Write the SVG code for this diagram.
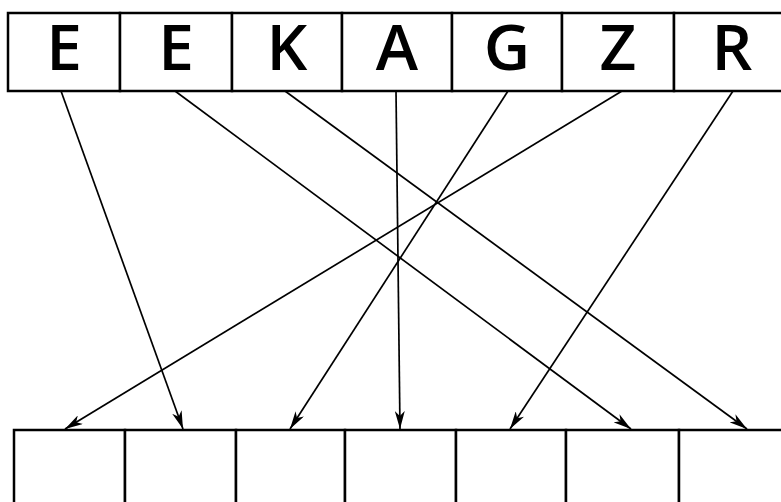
<svg xmlns="http://www.w3.org/2000/svg" width="781" height="502" viewBox="0 0 781 502">
<style>
.cell{fill:#fff;stroke:#000;stroke-width:2.5}
.lbl{font-family:"Open Sans","Liberation Sans",sans-serif;font-size:64px;font-weight:600;fill:#000;text-anchor:middle}
.conn{stroke:#000;stroke-width:1.7;fill:none;marker-end:url(#ah)}
</style>
<defs>
<marker id="ah" viewBox="0 0 18 10" refX="18" refY="5" markerWidth="18" markerHeight="10" markerUnits="userSpaceOnUse" orient="auto">
<path d="M0,0 L18,5 L0,10 L5,5 Z" fill="#000"/>
</marker>
</defs>
<rect width="781" height="502" fill="#fff"/>
<g id="top-row">
<g id="t1"><rect class="cell" x="8" y="13" width="112" height="78"/><text class="lbl" x="64" y="70">E</text></g>
<g id="t2"><rect class="cell" x="120" y="13" width="112" height="78"/><text class="lbl" x="176" y="70">E</text></g>
<g id="t3"><rect class="cell" x="232" y="13" width="110" height="78"/><text class="lbl" x="287" y="70">K</text></g>
<g id="t4"><rect class="cell" x="342" y="13" width="110" height="78"/><text class="lbl" x="397" y="70">A</text></g>
<g id="t5"><rect class="cell" x="452" y="13" width="110" height="78"/><text class="lbl" x="507" y="70">G</text></g>
<g id="t6"><rect class="cell" x="562" y="13" width="112" height="78"/><text class="lbl" x="618" y="70">Z</text></g>
<g id="t7"><rect class="cell" x="674" y="13" width="115" height="78"/><text class="lbl" x="732" y="70">R</text></g>
</g>
<g id="bottom-row">
<g id="b1"><rect class="cell" x="14" y="430" width="111" height="80"/></g>
<g id="b2"><rect class="cell" x="125" y="430" width="111" height="80"/></g>
<g id="b3"><rect class="cell" x="236" y="430" width="109" height="80"/></g>
<g id="b4"><rect class="cell" x="345" y="430" width="111" height="80"/></g>
<g id="b5"><rect class="cell" x="456" y="430" width="110" height="80"/></g>
<g id="b6"><rect class="cell" x="566" y="430" width="113" height="80"/></g>
<g id="b7"><rect class="cell" x="679" y="430" width="110" height="80"/></g>
</g>
<g id="connectors">
<line class="conn" x1="61" y1="91" x2="183" y2="429"/>
<line class="conn" x1="175" y1="91" x2="631" y2="429"/>
<line class="conn" x1="285" y1="91" x2="747" y2="429"/>
<line class="conn" x1="396" y1="91" x2="400" y2="429"/>
<line class="conn" x1="508" y1="91" x2="290" y2="429"/>
<line class="conn" x1="622" y1="91" x2="65" y2="429"/>
<line class="conn" x1="733" y1="91" x2="510" y2="429"/>
</g>
</svg>
